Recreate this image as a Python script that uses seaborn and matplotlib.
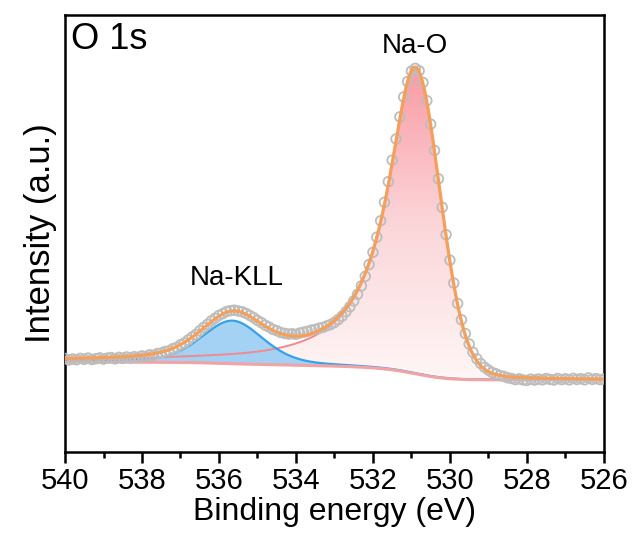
import numpy as np
import matplotlib
matplotlib.use("Agg")
import matplotlib.pyplot as plt
from matplotlib.colors import LinearSegmentedColormap
from matplotlib.ticker import MultipleLocator
import seaborn as sns

# ---- measured O 1s spectrum (0.1 eV steps, 540 -> 526 eV) ----
energy = np.linspace(540.0, 526.0, 141)
intensity = np.array([
    9350, 9200, 9300, 9220, 9360, 9260, 9390, 9240, 9320, 9410,
    9280, 9390, 9440, 9310, 9460, 9370, 9500, 9400, 9530, 9460,
    9610, 9550, 9720, 9660, 9840, 9890, 10050, 10110, 10330, 10460,
    10720, 10900, 11200, 11490, 11760, 12120, 12450, 12760, 13100, 13370,
    13660, 13840, 14050, 14130, 14180, 14100, 14020, 13860, 13650, 13430,
    13160, 12940, 12680, 12490, 12260, 12130, 11950, 11860, 11790, 11820,
    11760, 11890, 11980, 12060, 12190, 12250, 12380, 12460, 12610, 12740,
    12960, 13240, 13590, 14030, 14520, 15100, 15760, 16610, 17560, 18740,
    19960, 21480, 23120, 24970, 27030, 29180, 31300, 33510, 35500, 37040,
    38090, 38360, 38120, 36950, 35130, 32780, 30150, 27320, 24460, 21730,
    19180, 16890, 14850, 13220, 11840, 10790, 9960, 9320, 8840, 8470,
    8190, 7940, 7810, 7640, 7560, 7420, 7350, 7240, 7310, 7200,
    7160, 7280, 7190, 7300, 7210, 7340, 7260, 7200, 7350, 7240,
    7320, 7210, 7360, 7250, 7330, 7220, 7400, 7260, 7340, 7230,
    7300,
])

# ---- peak-fit components (asymmetric pseudo-Voigt) ----
peak_names = ["Na-KLL", "Na-O"]
peak_centers = [535.65, 530.90]
peak_heights = [4300, 30600]
hwhm_high_be = [0.95, 0.86]
hwhm_low_be = [0.95, 0.76]
lorentz_high_be = [0.35, 1.0]
lorentz_low_be = [0.35, 0.10]

# Shirley background end levels
bg_high_end = 9000   # at 540 eV
bg_low_end = 7200    # at 526 eV


def pseudo_voigt(e, c, h, w_hi, w_lo, eta_hi, eta_lo):
    d = e - c
    w = np.where(d >= 0, w_hi, w_lo)
    eta = np.where(d >= 0, eta_hi, eta_lo)
    u = (d / w) ** 2
    return h * (eta / (1 + u) + (1 - eta) * np.exp(-np.log(2) * u))


grid = np.linspace(526.0, 540.0, 1401)
comps = [
    pseudo_voigt(grid, peak_centers[i], peak_heights[i], hwhm_high_be[i],
                 hwhm_low_be[i], lorentz_high_be[i], lorentz_low_be[i])
    for i in range(len(peak_names))
]
total = np.sum(comps, axis=0)
cum = np.concatenate([[0.0], np.cumsum((total[1:] + total[:-1]) / 2 * np.diff(grid))])
background = bg_low_end + (bg_high_end - bg_low_end) * cum / cum[-1]
envelope = background + total

# ---- styling ----
sns.set_theme(style="ticks")
plt.rcParams["font.family"] = ["Liberation Sans", "DejaVu Sans"]
plt.rcParams.update({
    "axes.linewidth": 1.8,
    "axes.edgecolor": "black",
    "text.color": "black",
    "axes.labelcolor": "black",
    "xtick.color": "black",
    "xtick.labelcolor": "black",
})

fig, ax = plt.subplots(figsize=(6.33, 5.34), dpi=100)
fig.subplots_adjust(left=0.1027, right=0.954, bottom=0.1536, top=0.972)

c_orange = "#F4A05A"
c_blue_fill = "#9ACEF4"
c_blue_line = "#35A2E8"
c_bg = "#F2A3A3"
c_red_line = "#F08A8E"

# Na-O component with vertical pink gradient
na_o_top = background + comps[1]
poly = ax.fill_between(grid, background, na_o_top, color="none", lw=0, zorder=1)
pink = LinearSegmentedColormap.from_list("pink", ["#FFF6F6", "#FBD6D9", "#F99BA4"])
grad = np.linspace(0, 1, 256).reshape(-1, 1)
ymin_g, ymax_g = background.min(), na_o_top.max()
im = ax.imshow(grad, extent=[526, 540, ymin_g, ymax_g], origin="lower",
               aspect="auto", cmap=pink, zorder=1)
im.set_clip_path(poly.get_paths()[0], transform=ax.transData)

# Na-KLL component
ax.fill_between(grid, background, background + comps[0], color=c_blue_fill,
                alpha=0.9, lw=0, zorder=2)

sns.lineplot(x=grid, y=na_o_top, color=c_red_line, lw=1.4, ax=ax, zorder=3)
sns.lineplot(x=grid, y=background + comps[0], color=c_blue_line, lw=1.6, ax=ax, zorder=3)
sns.lineplot(x=grid, y=background, color=c_bg, lw=2.2, ax=ax, zorder=3.5)

# measured points
sns.scatterplot(x=energy, y=intensity, marker="o", s=48, facecolors="none",
                edgecolor="#BDBDBD", linewidth=1.3, ax=ax, zorder=4)

# fitted envelope
sns.lineplot(x=grid, y=envelope, color=c_orange, lw=2.3, ax=ax, zorder=5)

ax.set_xlim(540, 526)
ax.set_ylim(0, 43700)
ax.xaxis.set_major_locator(MultipleLocator(2))
ax.xaxis.set_minor_locator(MultipleLocator(1))
ax.set_yticks([])
ax.tick_params(axis="x", which="major", direction="out", length=8, width=1.8,
               labelsize=21, pad=3, bottom=True, top=False, color="black",
               labelcolor="black")
ax.tick_params(axis="x", which="minor", direction="out", length=4.5, width=1.8,
               bottom=True, top=False, color="black")
for s in ax.spines.values():
    s.set_linewidth(1.8)
    s.set_color("black")

ax.set_xlabel("Binding energy (eV)", fontsize=23, labelpad=1, color="black")
ax.set_ylabel("Intensity (a.u.)", fontsize=25, labelpad=6, color="black")

ax.text(0.012, 0.985, "O 1s", transform=ax.transAxes, ha="left", va="top",
        fontsize=26, color="black")
ax.text(530.9, 40600, "Na-O", ha="center", va="center", fontsize=20, color="black")
ax.text(535.55, 17400, "Na-KLL", ha="center", va="center", fontsize=20, color="black")

fig.savefig("out.png", dpi=100)
